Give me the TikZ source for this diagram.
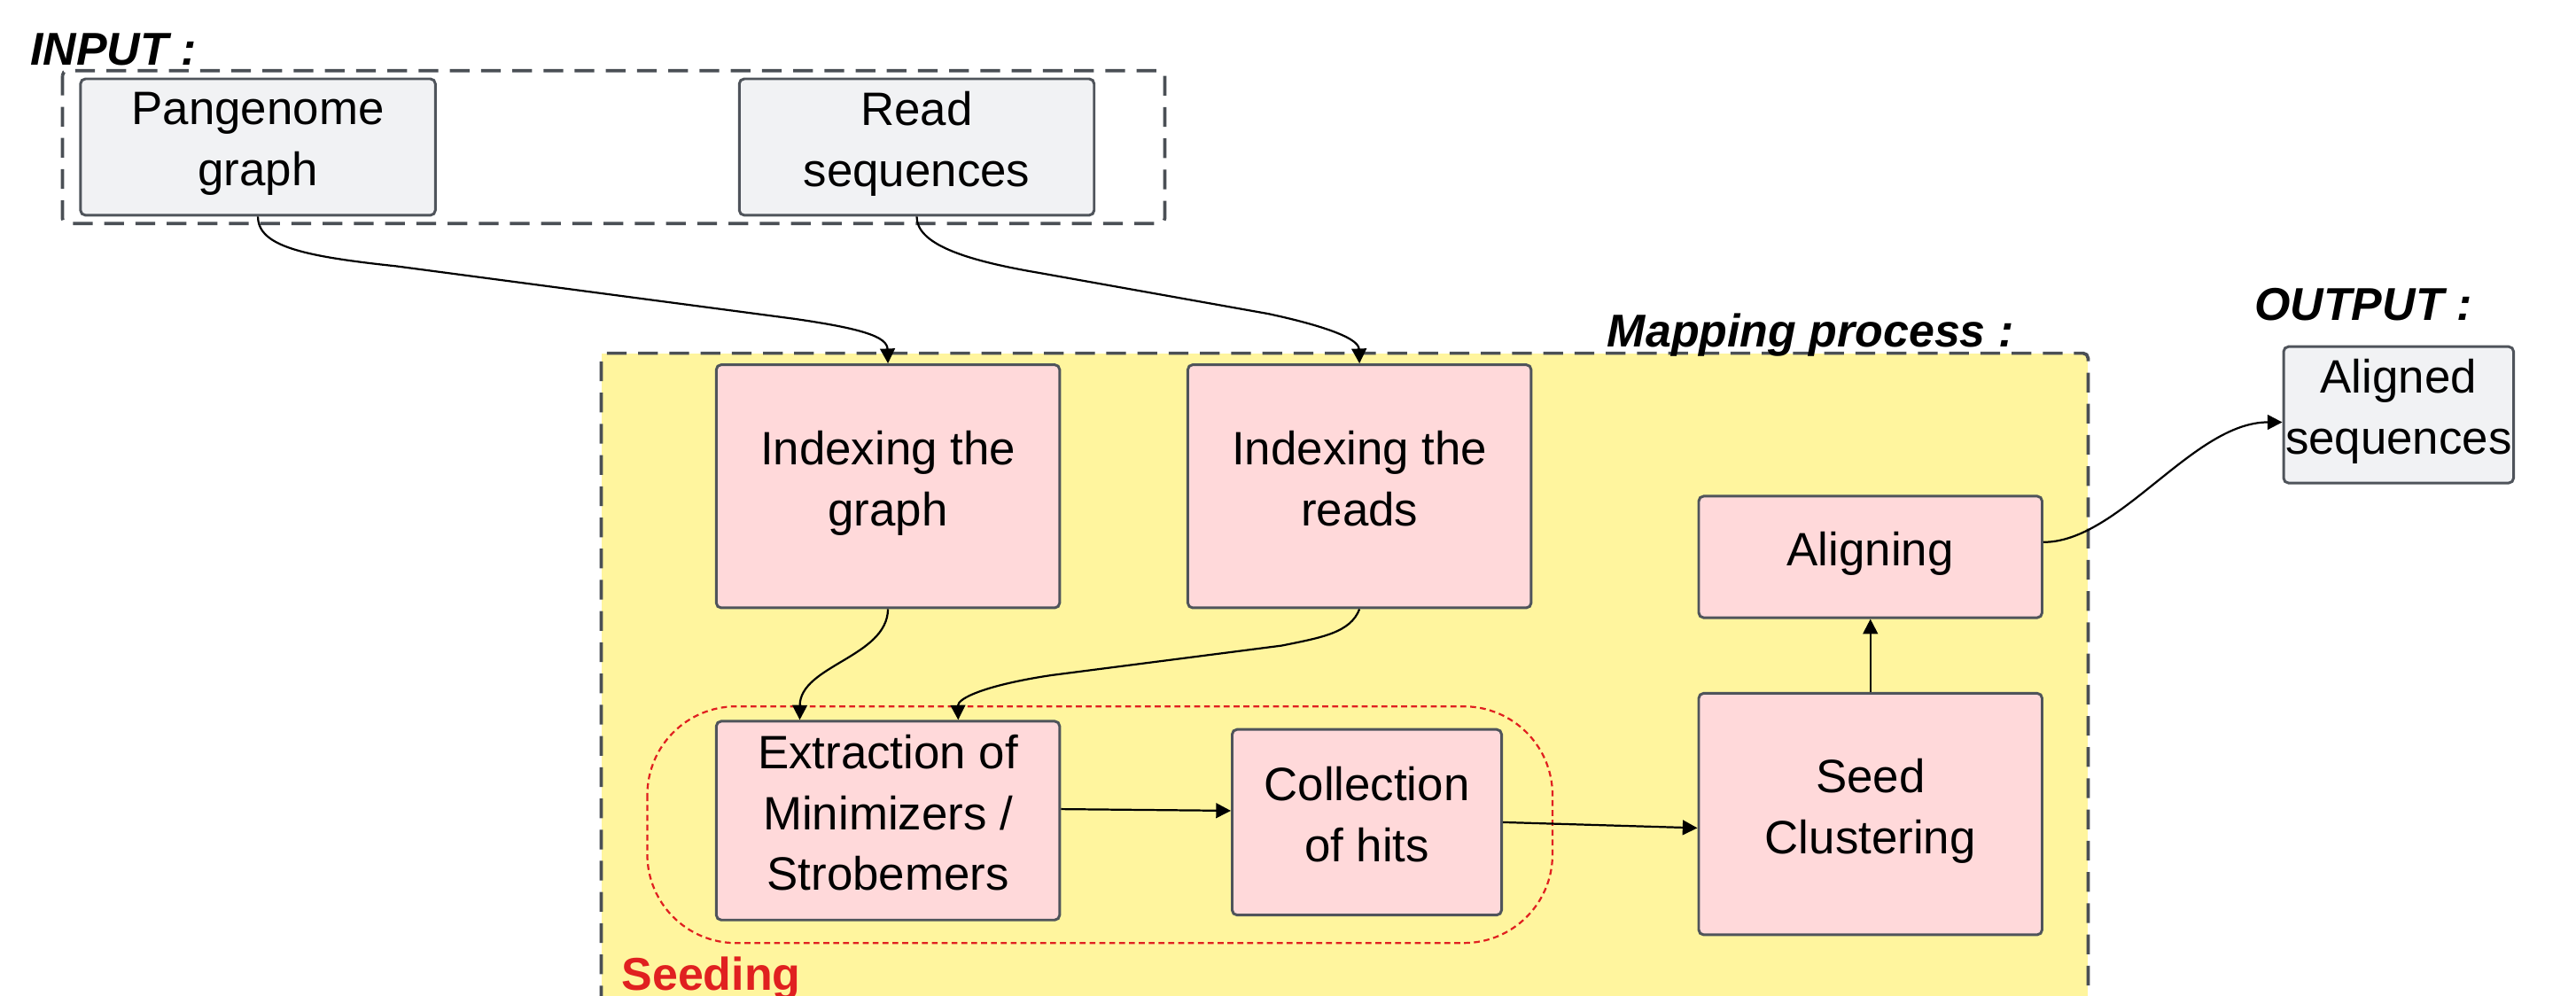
\documentclass[tikz,border=0pt]{standalone}
\usepackage{fontspec}
\setmainfont{Liberation Sans}
\usetikzlibrary{arrows.meta,calc}
\definecolor{boxgray}{HTML}{F1F2F4}
\definecolor{edgegray}{HTML}{4F545B}
\definecolor{pinkfill}{HTML}{FFD9DA}
\definecolor{yellowfill}{HTML}{FFF59E}
\definecolor{seedred}{HTML}{E02020}
\definecolor{dashgray}{HTML}{4A4F55}
\newcommand{\bxstrut}{\rule[-4.9pt]{0pt}{15.4pt}}
\begin{document}
\begin{tikzpicture}[x=0.5pt,y=-0.5pt,
  box/.style={draw=edgegray, line width=0.8pt, rounded corners=1.5pt, inner sep=0pt, align=center, font=\fontsize{14.25}{18.5}\selectfont, execute at begin node=\bxstrut, execute at end node=\bxstrut},
  inbox/.style={box, fill=boxgray},
  pbox/.style={box, fill=pinkfill},
  conn/.style={line width=0.6pt, -{Triangle[length=4.5pt,width=4.5pt]}},
  grpline/.style={draw=dashgray, line width=1pt, dash pattern=on 6pt off 3.5pt},
  ttl/.style={font=\fontsize{14}{16}\selectfont\bfseries\itshape, inner sep=0pt, anchor=base west}]
\useasboundingbox (0,0) rectangle (1568,606);

% groups
\draw[grpline, rounded corners=1.5pt] (38,43) rectangle (709,136);
\fill[yellowfill] (366,215) rectangle (1271,606);
\draw[grpline, rounded corners=1.5pt] (366,612) -- (366,215) -- (1271,215) -- (1271,612);
\draw[seedred, line width=0.6pt, dash pattern=on 1.8pt off 1.2pt, rounded corners=27pt] (394,430) rectangle (945,574);

% labels
\node[ttl] (inl) at (18,39.5) {INPUT :};
\node[ttl] (mpl) at (978,211) {Mapping process :};
\node[ttl] (outl) at (1372,195) {OUTPUT :};
\node[ttl, font=\fontsize{14}{16}\selectfont\bfseries, text=seedred] (sdl) at (378,603) {Seeding};

% boxes
\node[inbox, minimum width=108pt, minimum height=41.5pt] (pg) at (157,89.5) {Pangenome\\graph};
\node[inbox, minimum width=108pt, minimum height=41.5pt] (rs) at (558,89.5) {Read\\sequences};
\node[pbox, minimum width=104.5pt, minimum height=74pt] (ig) at (540.5,296) {Indexing the\\graph};
\node[pbox, minimum width=104.5pt, minimum height=74pt] (ir) at (827.5,296) {Indexing the\\reads};
\node[pbox, minimum width=104.5pt, minimum height=37pt] (al) at (1138.5,339) {Aligning};
\node[pbox, minimum width=104.5pt, minimum height=60.5pt] (ex) at (540.5,499.5) {Extraction of\\Minimizers /\\Strobemers};
\node[pbox, minimum width=82pt, minimum height=56.5pt] (co) at (832,500.5) {Collection\\of hits};
\node[pbox, minimum width=104.5pt, minimum height=73.5pt] (sc) at (1138.5,495.5) {Seed\\Clustering};
\node[inbox, minimum width=70pt, minimum height=41.5pt] (as) at (1460,252.5) {Aligned\\sequences};

% connectors
\draw[conn] (pg.south) .. controls (157,150) and (185,156) .. (241,162) -- (483,194) .. controls (525,200) and (540,205) .. (ig.north);
\draw[conn] (rs.south) .. controls (558,148) and (585,158) .. (632,166) -- (772,191) .. controls (800,197) and (827,205) .. (ir.north);
\draw[conn] (ig.south) .. controls (540,400) and (487,405) .. ($(ex.north west)!0.245!(ex.north east)$);
\draw[conn] (ir.south) .. controls (822,385) and (805,388) .. (780,393) -- (640,411) .. controls (600,417) and (583,425) .. ($(ex.north west)!0.703!(ex.north east)$);
\draw[conn] ($(ex.east)+(0,-7)$) -- ($(co.west)+(0,-7)$);
\draw[conn] ($(co.east)+(0,0)$) -- ($(sc.west)+(0,8.5)$);
\draw[conn] (sc.north) -- (al.south);
\draw[conn] ($(al.east)+(0,-9)$) .. controls (1290,330) and (1335,257) .. ($(as.west)+(0,4.5)$);
\end{tikzpicture}
\end{document}
